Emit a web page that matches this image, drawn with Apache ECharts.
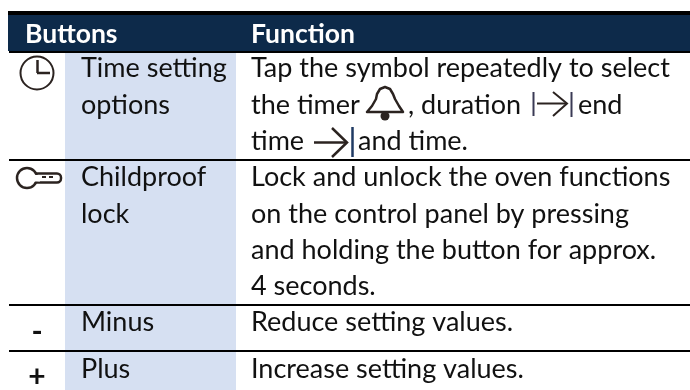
<!DOCTYPE html>
<html>
<head>
<meta charset="utf-8">
<style>
  html, body { margin: 0; background: #fff; }
  #main { width: 690px; height: 390px; }
</style>
<script src="https://cdn.jsdelivr.net/npm/echarts@6/dist/echarts.min.js"></script>
</head>
<body>
<div id="main"></div>
<script>
var headers = ['Buttons', 'Function']
var buttonMarks = ['clock', 'key', '-', '+']
var buttonNames = [['Time setting', 'options'], ['Childproof', 'lock'], ['Minus'], ['Plus']]
// 每行文字，图标单独画
var functionLines = [
  ['Tap the symbol repeatedly to select', 'the timer', 'time'],
  ['Lock and unlock the oven functions', 'on the control panel by pressing', 'and holding the button for approx.', '4 seconds.'],
  ['Reduce setting values.'],
  ['Increase setting values.']
]
var inlineTexts = [', duration', 'end', 'and time.']

var FONT = 'Lato'
var SIZE = 27
var NAVY = '#0d2a4a'
var BLUE = '#d6e0f2'
var INK = '#111111'
var ICON = '#2b2320'
// 每行的上边线和第一行基线
var rowTop = [53, 161, 306, 352]
var firstBaseline = [79, 188, 333, 380]
var LINE = 36.3
// zrender 文字按顶部定位，换算到基线
var BASE_SHIFT = 24

function textEl(str, x, baseline, size, weight, color) {
  return {
    type: 'text',
    style: { text: str, x: x, y: baseline - BASE_SHIFT, fill: color || INK, font: (weight || 'normal') + ' ' + (size || SIZE) + 'px ' + FONT }
  }
}
function lineEl(x1, y1, x2, y2, w, color) {
  return { type: 'line', shape: { x1: x1, y1: y1, x2: x2, y2: y2 }, style: { stroke: color || ICON, lineWidth: w || 2, fill: null } }
}
function headEl(points, w) {
  return { type: 'polyline', shape: { points: points }, style: { stroke: ICON, lineWidth: w || 2, fill: null } }
}

function clockIcon() {
  return [
    { type: 'circle', shape: { cx: 37, cy: 73, r: 16.5 }, style: { stroke: ICON, lineWidth: 2, fill: '#fff' } },
    lineEl(37.5, 60, 37.5, 73, 2.5), lineEl(37, 73, 50, 73, 2.5)
  ]
}
function keyIcon() {
  return [
    { type: 'rect', shape: { x: 28, y: 173.5, width: 33, height: 9, r: 4 }, style: { stroke: ICON, lineWidth: 2.5, fill: '#fff' } },
    { type: 'circle', shape: { cx: 27, cy: 178, r: 10 }, style: { stroke: ICON, lineWidth: 2.5, fill: '#fff' } },
    { type: 'rect', shape: { x: 32, y: 175, width: 8, height: 6.5 }, style: { fill: '#fff' } },
    lineEl(42, 177, 46, 177, 2), lineEl(49, 177, 53, 177, 2)
  ]
}
function bellIcon() {
  return [
    { type: 'polygon', shape: { points: [[367, 112], [372, 106], [376, 99], [377, 94], [380, 89], [385, 87], [390, 89], [393, 94], [395, 99], [399, 106], [403, 112]] }, style: { stroke: ICON, lineWidth: 2.5, fill: '#fff', lineJoin: 'round' } },
    { type: 'circle', shape: { cx: 385, cy: 116, r: 4.5 }, style: { fill: ICON } }
  ]
}
function arrowIcons() {
  return [
    lineEl(533.5, 92, 533.5, 116, 2, '#3a3a55'), lineEl(537, 103.5, 566, 103.5),
    headEl([[553, 92], [567, 103.5], [553, 116]]),
    lineEl(571.5, 92, 571.5, 117, 2, '#3a3a55'),
    lineEl(314, 142.5, 346, 142.5, 2.5),
    headEl([[332, 128], [347, 142.5], [332, 157]], 2.5),
    lineEl(352.5, 127, 352.5, 157, 2.5, '#1f3a63')
  ]
}

function renderRow(params, api) {
  var i = api.value(0)
  var kids = []
  var base = firstBaseline[i]
  buttonNames[i].forEach(function (s, k) { kids.push(textEl(s, 81, base + k * LINE)) })
  functionLines[i].forEach(function (s, k) { kids.push(textEl(s, 251, base + k * LINE)) })
  if (buttonMarks[i] === 'clock') kids = kids.concat(clockIcon(), bellIcon(), arrowIcons())
  else if (buttonMarks[i] === 'key') kids = kids.concat(keyIcon())
  else kids.push({ type: 'text', style: { text: buttonMarks[i], x: 37, y: i === 3 ? 377 : 332, align: 'center', verticalAlign: 'middle', fill: INK, font: 'bold 30px ' + FONT } })
  if (i === 0) {
    kids.push(textEl(inlineTexts[0], 408, base + LINE))
    kids.push(textEl(inlineTexts[1], 578, base + LINE))
    kids.push(textEl(inlineTexts[2], 358, base + 2 * LINE))
  }
  if (i > 0) kids.push({ type: 'rect', shape: { x: 9, y: rowTop[i] - 2, width: 681, height: 2 }, style: { fill: '#000' } })
  return { type: 'group', children: kids }
}

var chart = echarts.init(document.getElementById('main'), null, { renderer: 'canvas' })
chart.setOption({
  animation: false,
  backgroundColor: '#fff',
  graphic: [
    { type: 'rect', z: -1, shape: { x: 65, y: 53, width: 171, height: 337 }, style: { fill: BLUE } },
    { type: 'rect', shape: { x: 8, y: 11, width: 682, height: 4 }, style: { fill: '#000' } },
    { type: 'rect', shape: { x: 8, y: 15, width: 682, height: 36 }, style: { fill: NAVY } },
    { type: 'rect', shape: { x: 9, y: 51, width: 681, height: 2 }, style: { fill: '#000' } },
    { type: 'text', style: { text: headers[0], x: 25, y: 21, fill: '#fff', font: 'bold 26.5px ' + FONT } },
    { type: 'text', style: { text: headers[1], x: 251, y: 21, fill: '#fff', font: 'bold 26.5px ' + FONT } }
  ],
  series: [{
    type: 'custom',
    coordinateSystem: 'none',
    silent: true,
    z: 5,
    data: buttonMarks.map(function (m, i) { return [i] }),
    renderItem: renderRow
  }]
})
</script>
</body>
</html>
